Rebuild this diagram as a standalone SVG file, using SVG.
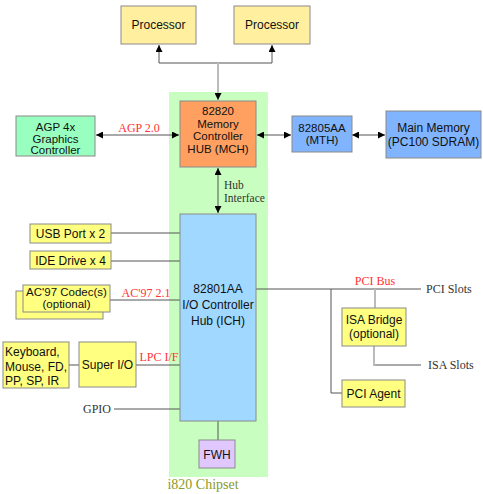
<svg xmlns="http://www.w3.org/2000/svg" width="483" height="494" viewBox="0 0 483 494">
<style>
.box{stroke:#8a8a8a;stroke-width:1}
.t{font-family:"Liberation Sans",Arial,sans-serif;font-size:12px;fill:#111;text-anchor:middle}
.s{font-size:11.5px}
.st{text-anchor:start}
.lab{font-family:"Liberation Serif","Times New Roman",serif;font-size:12px}
.mid{text-anchor:middle}
.red{fill:#ff3333}
.dk{fill:#333}
.ln{stroke:#555;stroke-width:1;fill:none}
.lg{stroke:#bbb;stroke-width:2;fill:none}
.yl{fill:#ffff80}
</style>
<defs>
<marker id="ah" viewBox="0 0 10 10" refX="10" refY="5" markerWidth="7" markerHeight="7" orient="auto" markerUnits="userSpaceOnUse">
<path d="M0,0 L10,5 L0,10 z" fill="#000"/>
</marker>
<marker id="as" viewBox="0 0 10 10" refX="0" refY="5" markerWidth="7" markerHeight="7" orient="auto" markerUnits="userSpaceOnUse">
<path d="M10,0 L0,5 L10,10 z" fill="#000"/>
</marker>
</defs>
<rect id="chipset-bg" x="169" y="92" width="99" height="385" fill="#c8ffc0"/>
<text class="lab mid" x="203" y="489" style="font-size:14px" fill="#8a9a2a">i820 Chipset</text>
<g id="connectors">
<path class="ln" d="M159,63 H272" stroke="#777"/>
<path class="ln" d="M159,63 V45" marker-end="url(#ah)" stroke="#777"/>
<path class="ln" d="M272,63 V45" marker-end="url(#ah)" stroke="#777"/>
<path class="lg" d="M218,63 V100" marker-end="url(#ah)"/>
<path class="ln" d="M96,135 H179" marker-start="url(#as)" marker-end="url(#ah)"/>
<path class="ln" d="M257,135 H291" marker-start="url(#as)" marker-end="url(#ah)"/>
<path class="ln" d="M352,135 H385" marker-start="url(#as)" marker-end="url(#ah)"/>
<path class="ln" d="M218,168 V213" stroke="#888" marker-start="url(#as)" marker-end="url(#ah)"/>
<path class="ln" d="M111,233 H180"/>
<path class="ln" d="M111,261 H180"/>
<path class="ln" d="M110,300 H180"/>
<path class="ln" d="M69,365 H79"/>
<path class="ln" d="M136,365 H180"/>
<path class="ln" d="M114,409 H180"/>
<path class="ln" d="M218,421 V440"/>
<path class="ln" d="M256,289 H421"/>
<path class="ln" d="M331,289 V393 H342"/>
<path class="lg" d="M375,289 V308"/>
<path class="lg" d="M374,346 V365 H375"/>
<path class="ln" d="M375,365 H421"/>
</g>
<text class="lab red mid" x="139" y="132">AGP 2.0</text>
<text class="lab dk" x="224" y="189" style="font-size:11.5px">Hub</text>
<text class="lab dk" x="224" y="202" style="font-size:11.5px">Interface</text>
<text class="lab red mid" x="146" y="297">AC'97 2.1</text>
<text class="lab red mid" x="159" y="361">LPC I/F</text>
<text class="lab dk mid" x="97" y="413">GPIO</text>
<text class="lab red mid" x="375" y="285">PCI Bus</text>
<text class="lab dk" x="426" y="293">PCI Slots</text>
<text class="lab dk" x="428" y="369">ISA Slots</text>
<g id="proc1"><rect class="box" x="121" y="6" width="75" height="38" fill="#ffef9f"/><text class="t" x="158.5" y="29">Processor</text></g>
<g id="proc2"><rect class="box" x="234" y="6" width="76" height="38" fill="#ffef9f"/><text class="t" x="272" y="29">Processor</text></g>
<g id="mch"><rect class="box" x="180" y="101" width="76" height="66" fill="#ffa060"/>
<text class="t s" x="218" y="115">82820</text><text class="t s" x="218" y="127.7">Memory</text><text class="t s" x="218" y="140.3">Controller</text><text class="t s" x="218" y="153">HUB (MCH)</text></g>
<g id="agp"><rect class="box" x="16" y="116" width="79" height="40" fill="#99ffc0"/>
<text class="t s" x="55.5" y="131">AGP 4x</text><text class="t s" x="55.5" y="142.5">Graphics</text><text class="t s" x="55.5" y="154">Controller</text></g>
<g id="mth"><rect class="box" x="292" y="116" width="60" height="36" fill="#80b4ff"/>
<text class="t s" x="322" y="132">82805AA</text><text class="t s" x="322" y="144">(MTH)</text></g>
<g id="mem"><rect class="box" x="386" y="111" width="95" height="47" fill="#80b4ff"/>
<text class="t" x="433.5" y="132">Main Memory</text><text class="t" x="433.5" y="146">(PC100 SDRAM)</text></g>
<g id="ich"><rect class="box" x="180" y="214" width="76" height="207" fill="#a0d8ff"/>
<text class="t" x="218" y="293">82801AA</text><text class="t" x="218" y="309">I/O Controller</text><text class="t" x="218" y="325">Hub (ICH)</text></g>
<g id="usb"><rect class="box yl" x="30" y="224" width="81" height="19"/><text class="t" x="70.5" y="238">USB Port x 2</text></g>
<g id="ide"><rect class="box yl" x="30" y="251" width="81" height="18"/><text class="t" x="70.5" y="265">IDE Drive x 4</text></g>
<g id="ac97"><rect class="box yl" x="16" y="291" width="87" height="28"/><rect class="box yl" x="23" y="285" width="87" height="27"/>
<text class="t s" x="66.5" y="296">AC'97 Codec(s)</text><text class="t s" x="66.5" y="307.5">(optional)</text></g>
<g id="kbd"><rect class="box yl" x="3" y="342" width="66" height="46"/>
<text class="t st" x="5" y="356">Keyboard,</text><text class="t st" x="5" y="370.5">Mouse, FD,</text><text class="t st" x="5" y="385">PP, SP, IR</text></g>
<g id="superio"><rect class="box yl" x="79" y="342" width="57" height="45"/><text class="t" x="107.5" y="369">Super I/O</text></g>
<g id="fwh"><rect class="box" x="199" y="440" width="36" height="28" fill="#e0c8ff"/><text class="t" x="217" y="459">FWH</text></g>
<g id="isa"><rect class="box yl" x="342" y="308" width="64" height="38"/>
<text class="t" x="374" y="324">ISA Bridge</text><text class="t" x="374" y="338">(optional)</text></g>
<g id="pciagent"><rect class="box yl" x="342" y="380" width="63" height="27"/><text class="t" x="373.5" y="398">PCI Agent</text></g>
</svg>
